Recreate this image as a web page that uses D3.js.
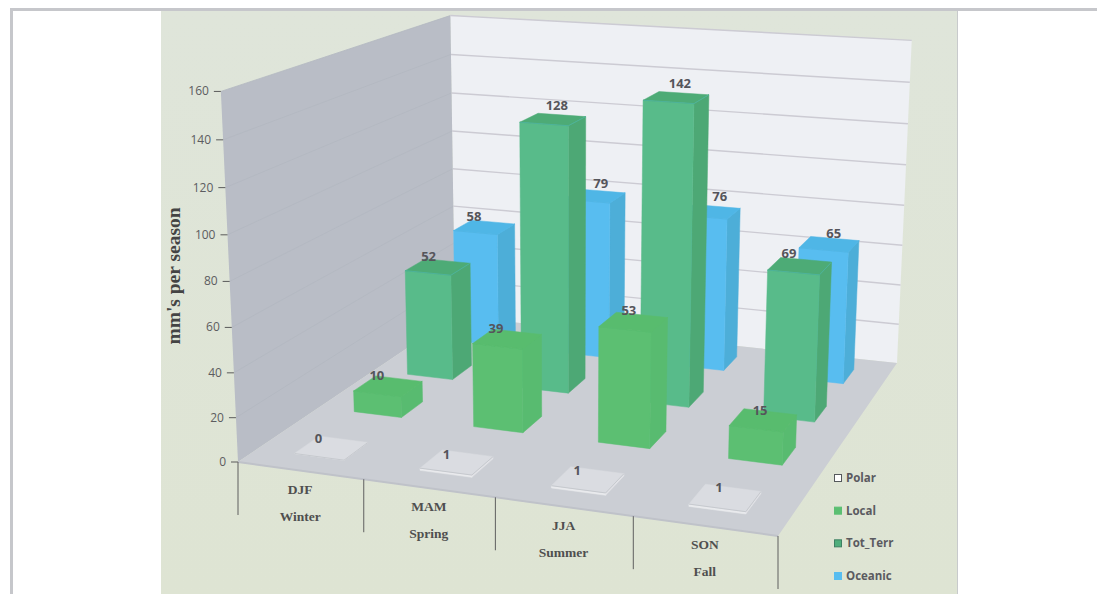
<!DOCTYPE html>
<html>
<head>
<meta charset="utf-8">
<script src="https://cdn.jsdelivr.net/npm/d3@7"></script>
<style>
  html, body { margin: 0; padding: 0; background: #fff; }
  svg { display: block; }
  .tick-label { font-family: "Open Sans", sans-serif; font-size: 12px; fill: #5c5c60; }
  .value-label { font-family: "Open Sans", sans-serif; font-size: 13px; font-weight: 700; fill: #55555b; text-anchor: middle; }
  .cat-label { font-family: "Liberation Serif", serif; font-size: 13.5px; font-weight: bold; fill: #4f4f4f; text-anchor: middle; }
  .axis-title { font-family: "Liberation Serif", serif; font-size: 19.5px; font-weight: bold; fill: #444; text-anchor: middle; }
  .legend-label { font-family: "Open Sans", sans-serif; font-size: 11.5px; font-weight: 700; fill: #5a5a60; }
</style>
</head>
<body>
<svg id="chart" width="1097" height="594"></svg>
<script>
// Chart data
const seasons = ['DJF', 'MAM', 'JJA', 'SON'];
const seasonNames = ['Winter', 'Spring', 'Summer', 'Fall'];
const seriesNames = ['Polar', 'Local', 'Tot_Terr', 'Oceanic'];
const polar = [0, 1, 1, 1];
const local = [10, 39, 53, 15];
const totTerr = [52, 128, 142, 69];
const oceanic = [58, 79, 76, 65];
const yTicks = [0, 20, 40, 60, 80, 100, 120, 140, 160];

const seriesValues = { Polar: polar, Local: local, Tot_Terr: totTerr, Oceanic: oceanic };

const colors = {
    Polar: { front: '#e9eaed', side: '#e2e3e7', top: '#dadce1', edge: '#c6c9ce', swatch: '#ffffff', border: '#55595c' },
    Local: { front: '#5bbf72', side: '#59bb6f', top: '#59bc6e', edge: '#59bc6e', swatch: '#5bbf72', border: '#5bbf72' },
    Tot_Terr: { front: '#59bb8a', side: '#4ea874', top: '#4dab76', edge: '#4db39a', swatch: '#4fae7c', border: '#3d7f62' },
    Oceanic: { front: '#58bdf0', side: '#4eaed8', top: '#50b6e6', edge: '#50b6e6', swatch: '#58bdf0', border: '#58bdf0' }
};

// Excel left the value labels off the bar centres, hand nudged per label
const labelNudge = {
    Polar: [[-25, 8], [-21, 10], [-20, 9], [-14, 8]],
    Local: [[-22, 5], [-21, 5], [-13, 4], [-10, 7]],
    Tot_Terr: [[-19, 4], [-5, -1], [-4, -1], [-17, 2]],
    Oceanic: [[-19, 3], [-2, 1], [3, -1], [-1, 4]]
};

// Scales: category across the floor, series into the depth, value up the wall
const u = d3.scaleBand().domain(seasons).range([0, 1]);
const v = d3.scaleBand().domain(seriesNames).range([0, 1]);
const w = d3.scaleLinear().domain([0, 160]).range([0, 1]);
const gapShare = 0.3; // part of a band left empty each side of a bar

// Walls as seen in the picture
const floorQuad = [[238, 462], [778, 536], [897, 363], [455, 316]];
const topPoints = [
    { uv: [0, 0], xy: [221, 90] },
    { uv: [0, 1], xy: [450, 17] },
    { uv: [1, 1], xy: [912, 40] }
];

// Homography of the unit square to the floor
function squareToQuad(q) {
    const [[x0, y0], [x1, y1], [x2, y2], [x3, y3]] = q;
    const dx1 = x1 - x2, dx2 = x3 - x2, sx = x0 - x1 + x2 - x3;
    const dy1 = y1 - y2, dy2 = y3 - y2, sy = y0 - y1 + y2 - y3;
    const den = dx1 * dy2 - dx2 * dy1;
    const g = (sx * dy2 - dx2 * sy) / den;
    const h = (dx1 * sy - sx * dy1) / den;
    return [
        [x1 - x0 + g * x1, x3 - x0 + h * x3, x0],
        [y1 - y0 + g * y1, y3 - y0 + h * y3, y0],
        [g, h, 1]
    ];
}

function solve3(A, b) {
    const m = A.map((r, i) => [...r, b[i]]);
    for (let i = 0; i < 3; i++) {
        let p = i;
        for (let k = i + 1; k < 3; k++) if (Math.abs(m[k][i]) > Math.abs(m[p][i])) p = k;
        [m[i], m[p]] = [m[p], m[i]];
        for (let k = 0; k < 3; k++) {
            if (k === i) continue;
            const f = m[k][i] / m[i][i];
            for (let j = i; j < 4; j++) m[k][j] -= f * m[i][j];
        }
    }
    return m.map((r, i) => r[3] / r[i]);
}

const H = squareToQuad(floorQuad);

// Height column of the camera matrix, least squares on the three top corners
function heightColumn() {
    const rows = [], rhs = [];
    topPoints.forEach(p => {
        const [a, b] = p.uv;
        const X = H[0][0] * a + H[0][1] * b + H[0][2];
        const Y = H[1][0] * a + H[1][1] * b + H[1][2];
        const W = H[2][0] * a + H[2][1] * b + H[2][2];
        rows.push([1, 0, -p.xy[0]]); rhs.push(p.xy[0] * W - X);
        rows.push([0, 1, -p.xy[1]]); rhs.push(p.xy[1] * W - Y);
    });
    const AtA = [0, 1, 2].map(i => [0, 1, 2].map(j => d3.sum(rows, r => r[i] * r[j])));
    const Atb = [0, 1, 2].map(i => d3.sum(rows, (r, k) => r[i] * rhs[k]));
    return solve3(AtA, Atb);
}
const C = heightColumn();

function project(a, b, c) {
    const X = H[0][0] * a + H[0][1] * b + H[0][2] + C[0] * c;
    const Y = H[1][0] * a + H[1][1] * b + H[1][2] + C[1] * c;
    const W = H[2][0] * a + H[2][1] * b + H[2][2] + C[2] * c;
    return [X / W, Y / W];
}

const svg = d3.select('#chart');
const polygon = d3.line().curve(d3.curveLinearClosed);

// Panel and frame
const defs = svg.append('defs');
const bg = defs.append('linearGradient').attr('id', 'panel-bg').attr('x1', 0).attr('y1', 0).attr('x2', 0).attr('y2', 1);
bg.append('stop').attr('offset', '0%').attr('stop-color', '#dfe5da');
bg.append('stop').attr('offset', '100%').attr('stop-color', '#dee4d3');
defs.append('filter').attr('id', 'soft').append('feGaussianBlur').attr('stdDeviation', 0.45);

svg.append('rect').attr('x', 161).attr('y', 10).attr('width', 796).attr('height', 584).attr('fill', 'url(#panel-bg)');
svg.append('rect').attr('x', 957).attr('y', 10).attr('width', 1).attr('height', 584).attr('fill', '#c8cacc');
svg.append('rect').attr('x', 10).attr('y', 8).attr('width', 1087).attr('height', 3).attr('fill', '#c6c7cb');
svg.append('rect').attr('x', 10).attr('y', 8).attr('width', 3).attr('height', 586).attr('fill', '#c6c7cb');

const scene = svg.append('g').attr('filter', 'url(#soft)');

// Walls and floor
scene.append('path').attr('fill', '#eef0f4')
    .attr('d', polygon([project(0, 1, 0), project(0, 1, 1), project(1, 1, 1), project(1, 1, 0)]));
scene.append('path').attr('fill', '#b9bdc6')
    .attr('d', polygon([project(0, 0, 0), project(0, 0, 1), project(0, 1, 1), project(0, 1, 0)]));
scene.append('path').attr('fill', '#cbced4')
    .attr('d', polygon([project(0, 0, 0), project(1, 0, 0), project(1, 1, 0), project(0, 1, 0)]));
scene.append('path').attr('fill', 'none').attr('stroke', '#bfc2c9').attr('stroke-width', 2)
    .attr('d', d3.line()([project(0, 0, 0), project(1, 0, 0)]));

// Gridlines on both walls
yTicks.filter(d => d > 0).forEach(d => {
    scene.append('path').attr('fill', 'none').attr('stroke', '#b3b7c0').attr('stroke-width', 0.8)
        .attr('d', d3.line()([project(0, 0, w(d)), project(0, 1, w(d))]));
    scene.append('path').attr('fill', 'none').attr('stroke', '#cccbd3').attr('stroke-width', 1.4)
        .attr('d', d3.line()([project(0, 1, w(d)), project(1, 1, w(d))]));
});

// Bars, back row first, left to right in each row
const labels = [];
[...seriesNames].reverse().forEach(name => {
    const c = colors[name];
    const vStep = v.bandwidth();
    const v0 = v(name) + vStep * gapShare;
    const v1 = v(name) + vStep * (1 - gapShare);
    seriesValues[name].forEach((val, i) => {
        const uStep = u.bandwidth();
        const u0 = u(seasons[i]) + uStep * gapShare;
        const u1 = u(seasons[i]) + uStep * (1 - gapShare);
        const top = w(val);
        const g = scene.append('g').attr('class', 'bar');
        g.append('path').attr('fill', c.side).attr('stroke', c.side).attr('stroke-width', 0.5)
            .attr('d', polygon([project(u1, v0, 0), project(u1, v1, 0), project(u1, v1, top), project(u1, v0, top)]));
        g.append('path').attr('fill', c.front).attr('stroke', c.front).attr('stroke-width', 0.5)
            .attr('d', polygon([project(u0, v0, 0), project(u1, v0, 0), project(u1, v0, top), project(u0, v0, top)]));
        g.append('path').attr('fill', c.top).attr('stroke', c.top).attr('stroke-width', 0.5)
            .attr('d', polygon([project(u0, v0, top), project(u1, v0, top), project(u1, v1, top), project(u0, v1, top)]));
        g.append('path').attr('fill', 'none').attr('stroke', c.edge).attr('stroke-width', 1)
            .attr('d', d3.line()([project(u0, v0, top), project(u1, v0, top), project(u1, v1, top)]));
        const n = labelNudge[name][i];
        const p = project((u0 + u1) / 2, v1, top);
        labels.push({ val, x: p[0] + n[0], y: p[1] + n[1] });
    });
});

labels.forEach(d => {
    svg.append('text').attr('class', 'value-label')
        .attr('x', d.x).attr('y', d.y - 4).text(d.val);
});

// Value axis
yTicks.forEach(d => {
    const p = project(0, 0, w(d));
    svg.append('line').attr('x1', p[0] - 7).attr('x2', p[0]).attr('y1', p[1]).attr('y2', p[1])
        .attr('stroke', '#5a5a5a').attr('stroke-width', 1);
    svg.append('text').attr('class', 'tick-label').attr('text-anchor', 'end')
        .attr('x', p[0] - 12).attr('y', p[1] + 4).text(d);
});

svg.append('text').attr('class', 'axis-title')
    .attr('transform', 'translate(180,276) rotate(-90)').text("mm's per season");

// Category dividers and labels under the floor
d3.range(seasons.length + 1).forEach(i => {
    const p = project(i / seasons.length, 0, 0);
    svg.append('line').attr('x1', p[0]).attr('x2', p[0]).attr('y1', p[1]).attr('y2', p[1] + 53)
        .attr('stroke', '#5f5f5f').attr('stroke-width', 1);
});
seasons.forEach((s, i) => {
    const p = project(u(s) + u.bandwidth() / 2, 0, 0);
    svg.append('text').attr('class', 'cat-label').attr('x', p[0]).attr('y', p[1] + 23).text(s);
    svg.append('text').attr('class', 'cat-label').attr('x', p[0]).attr('y', p[1] + 50).text(seasonNames[i]);
});

// Legend
const legendY = d3.scalePoint().domain(seriesNames).range([478, 576]);
seriesNames.forEach(name => {
    const c = colors[name];
    svg.append('rect').attr('x', 834.5).attr('y', legendY(name) - 3.5).attr('width', 7).attr('height', 7)
        .attr('fill', c.swatch).attr('stroke', c.border).attr('stroke-width', 1);
    svg.append('text').attr('class', 'legend-label').attr('x', 846).attr('y', legendY(name) + 4).text(name);
});
</script>
</body>
</html>
